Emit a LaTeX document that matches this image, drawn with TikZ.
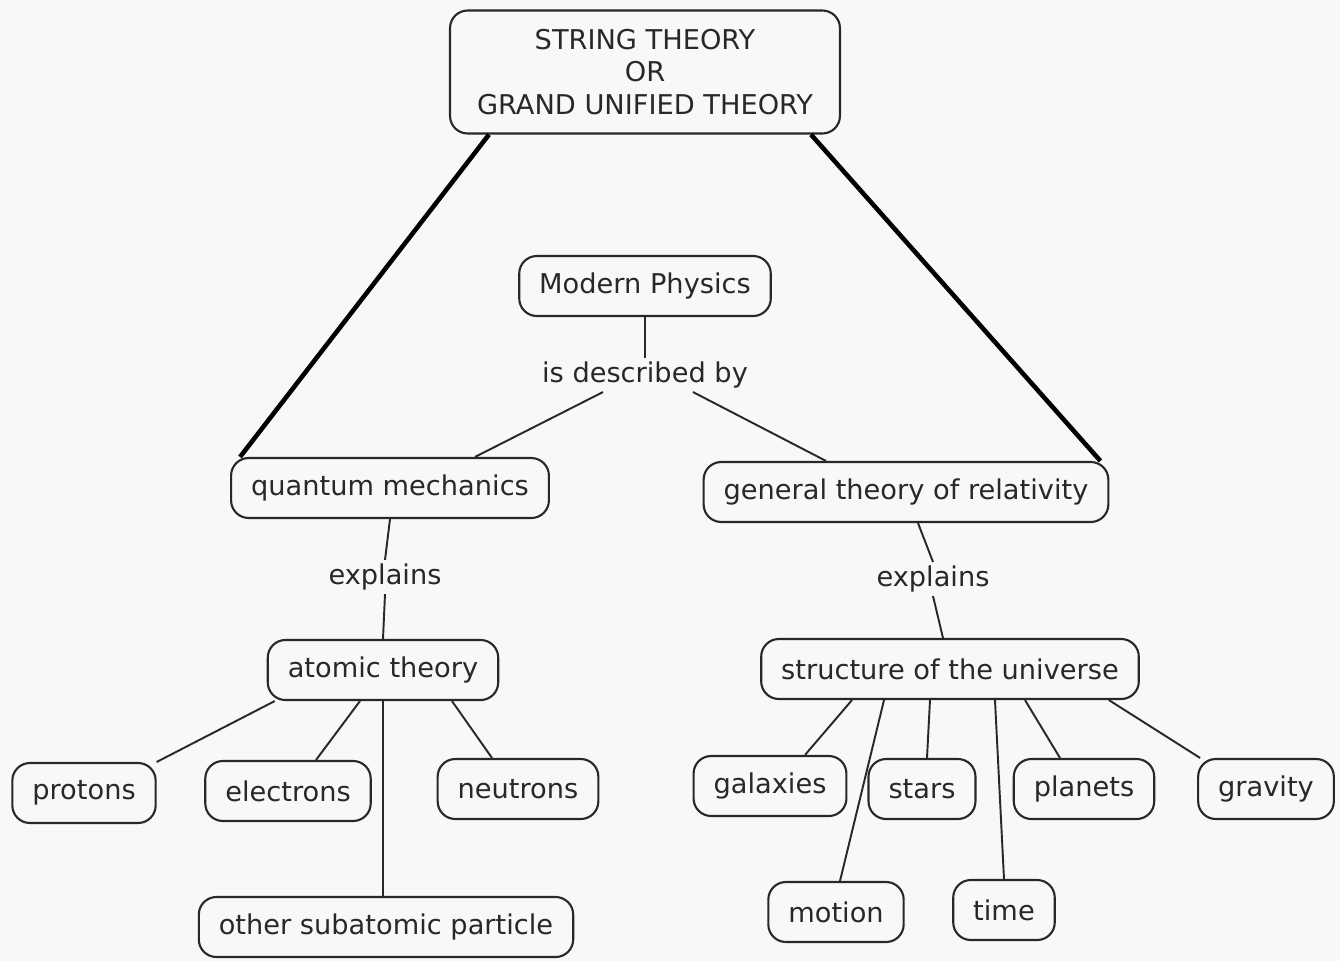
\documentclass[tikz,border=0pt]{standalone}
\usepackage{fontspec}
\setmainfont{DejaVu Sans}
\usepackage{tikz}
\definecolor{paper}{RGB}{248,248,248}
\definecolor{ink}{RGB}{40,40,40}
\tikzset{
    concept/.style={draw=ink, line width=1.2pt, rounded corners=10pt, fill=paper,
        inner xsep=0.4cm, minimum height=1.2cm, text=ink},
    linkword/.style={text=ink, inner sep=2pt},
    link/.style={draw=ink, line width=1.1pt},
    bigline/.style={draw=black, line width=2.6pt}
}

\begin{document}
\begin{tikzpicture}[x=0.02cm, y=-0.02cm, font=\fontsize{15.5}{18.7}\selectfont]

    \useasboundingbox[fill=paper] (0,0) rectangle (1340,961);

    % Top
    \node [concept, align=center, minimum width=7.8cm, minimum height=2.46cm, inner xsep=0.3cm] (top) at (645,72) {STRING THEORY\\OR\\GRAND UNIFIED THEORY};
    \node [concept] (modern) at (645,286) {Modern Physics};
    \node [linkword] (desc) at (645,375) {is described by};

    % Second row
    \node [concept] (qm) at (390,488) {quantum mechanics};
    \node [concept] (gtr) at (906,492) {general theory of relativity};
    \node [linkword] (explL) at (385,577) {explains};
    \node [linkword] (explR) at (933,579) {explains};
    \node [concept] (atomic) at (383,670) {atomic theory};
    \node [concept] (struct) at (950,669) {structure of the universe};

    % Particles
    \node [concept] (protons) at (84,793) {protons};
    \node [concept] (electrons) at (288,791) {electrons};
    \node [concept] (neutrons) at (518,789) {neutrons};
    \node [concept] (other) at (386,927) {other subatomic particle};

    % Universe
    \node [concept] (galaxies) at (770,786) {galaxies};
    \node [concept] (stars) at (922,789) {stars};
    \node [concept] (planets) at (1084,789) {planets};
    \node [concept] (gravity) at (1266,789) {gravity};
    \node [concept] (motion) at (836,912) {motion};
    \node [concept] (time) at (1004,910) {time};

    % Big triangle
    \draw [bigline] ([xshift=0.8cm]top.south west) -- ([xshift=0.2cm]qm.north west);
    \draw [bigline] ([xshift=-0.6cm]top.south east) -- ([xshift=-0.18cm]gtr.north east);

    % Modern physics
    \draw [link] (modern.south) -- (desc.north);
    \draw [link] ([xshift=-0.84cm]desc.south) -- ([xshift=1.7cm]qm.north);
    \draw [link] ([xshift=0.96cm]desc.south) -- ([xshift=-1.6cm]gtr.north);

    % Explains
    \draw [link] (qm.south) -- (explL.north);
    \draw [link] (explL.south) -- (atomic.north);
    \draw [link] ([xshift=0.24cm]gtr.south) -- (explR.north);
    \draw [link] (explR.south) -- ([xshift=-0.14cm]struct.north);

    % Atomic theory
    \draw [link] ([xshift=0.16cm]atomic.south west) -- (protons.north east);
    \draw [link] ([xshift=-0.46cm]atomic.south) -- ([xshift=0.56cm]electrons.north);
    \draw [link] (atomic.south) -- (atomic.south |- other.north);
    \draw [link] ([xshift=1.38cm]atomic.south) -- ([xshift=-0.52cm]neutrons.north);

    % Structure of the universe
    \draw [link] ([xshift=-1.96cm]struct.south) -- ([xshift=0.7cm]galaxies.north);
    \draw [link] ([xshift=-1.32cm]struct.south) -- ([xshift=0.08cm]motion.north);
    \draw [link] ([xshift=-0.4cm]struct.south) -- ([xshift=0.1cm]stars.north);
    \draw [link] ([xshift=0.9cm]struct.south) -- (time.north);
    \draw [link] ([xshift=1.5cm]struct.south) -- ([xshift=-0.48cm]planets.north);
    \draw [link] ([xshift=-0.62cm]struct.south east) -- ([xshift=0.06cm]gravity.north west);

\end{tikzpicture}
\end{document}
